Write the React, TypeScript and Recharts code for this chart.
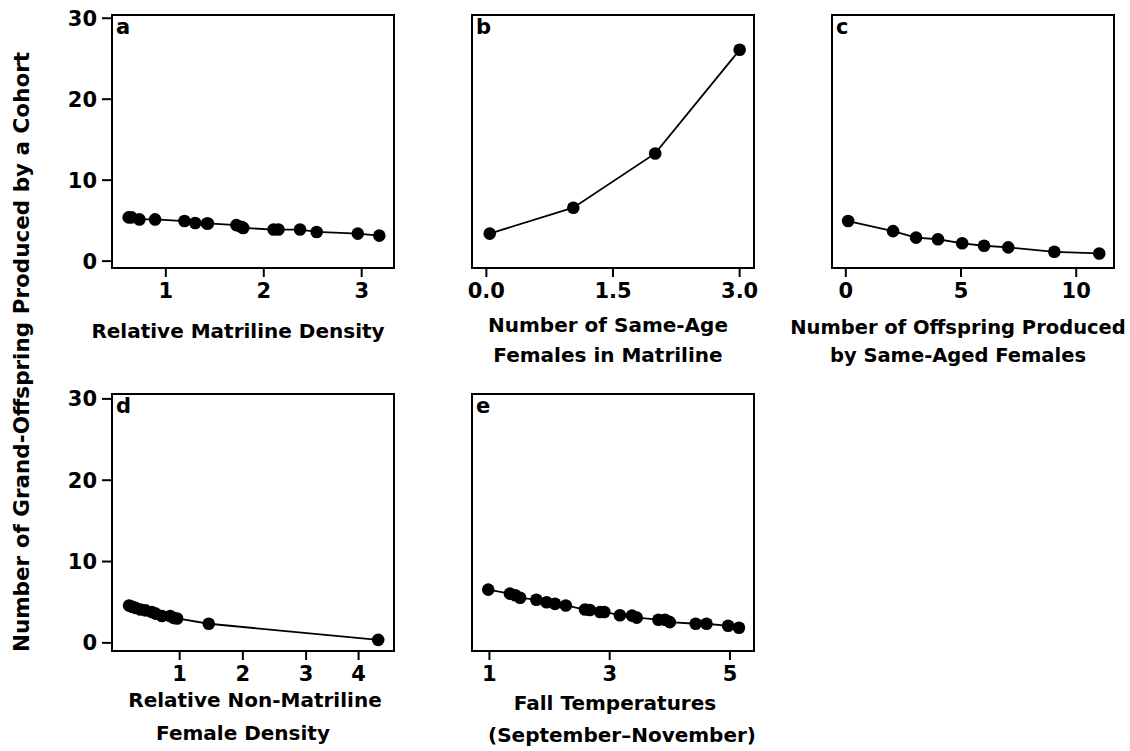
import React from 'react';
import { LineChart, Line, XAxis, YAxis, ReferenceArea } from 'recharts';

// panel a: relative matriline density
const aX = [0.62, 0.65, 0.73, 0.89, 1.19, 1.3, 1.42, 1.43, 1.72, 1.77, 1.79, 2.1, 2.15, 2.37, 2.54, 2.96, 3.18];
const aY = [5.4, 5.4, 5.15, 5.15, 4.95, 4.7, 4.65, 4.65, 4.45, 4.25, 4.1, 3.9, 3.9, 3.9, 3.6, 3.4, 3.15];
// panel b: same-age females in matriline
const bX = [0.04, 1.03, 2.0, 3.0];
const bY = [3.4, 6.6, 13.3, 26.1];
// panel c: offspring produced by same-aged females
const cX = [0.1, 2.05, 3.05, 4.0, 5.05, 6.0, 7.05, 9.05, 11.0];
const cY = [4.95, 3.7, 2.9, 2.7, 2.2, 1.9, 1.7, 1.15, 0.95];
// panel d: relative non-matriline female density
const dX = [0.2, 0.25, 0.3, 0.38, 0.46, 0.56, 0.62, 0.72, 0.85, 0.91, 0.96, 1.46, 4.14];
const dY = [4.6, 4.45, 4.3, 4.1, 4.0, 3.8, 3.6, 3.3, 3.3, 3.05, 3.0, 2.35, 0.37];
// panel e: fall temperatures
const eX = [0.98, 1.34, 1.43, 1.51, 1.78, 1.95, 2.09, 2.27, 2.59, 2.67, 2.84, 2.91, 3.17, 3.37, 3.45, 3.81, 3.92, 4.0, 4.43, 4.61, 4.97, 5.15];
const eY = [6.55, 6.05, 5.85, 5.55, 5.3, 5.0, 4.8, 4.6, 4.1, 4.05, 3.8, 3.8, 3.4, 3.35, 3.1, 2.85, 2.85, 2.55, 2.35, 2.35, 2.1, 1.85];

const yTicks = [0, 10, 20, 30];
const aTicks = [1, 2, 3];
const aTickLabels = ['1', '2', '3'];
const bTicks = [0, 1.5, 3];
const bTickLabels = ['0.0', '1.5', '3.0'];
const cTicks = [0, 5, 10];
const cTickLabels = ['0', '5', '10'];
// the "4" tick sits off the linear spacing in the original figure
const dTicks = [1, 2, 3, 3.83];
const dTickLabels = ['1', '2', '3', '4'];
const eTicks = [1, 3, 5];
const eTickLabels = ['1', '3', '5'];

const yLabel = 'Number of Grand-Offspring Produced by a Cohort';

const FONT = '"DejaVu Sans", Verdana, sans-serif';
const Y_W = 60;
const X_H = 44;
const PAD = 12;
const TICK_FS = 21;

type PanelProps = {
  letter: string;
  xs: number[];
  ys: number[];
  ticks: number[];
  tickLabels: string[];
  xDomain: [number, number];
  yDomain: [number, number];
  left: number;
  top: number;
  w: number;
  h: number;
  showY: boolean;
};

const Panel: React.FC<PanelProps> = ({ letter, xs, ys, ticks, tickLabels, xDomain, yDomain, left, top, w, h, showY }) => {
  const data = xs.map((x, i) => ({ x, y: ys[i] }));
  const yw = showY ? Y_W : 0;
  const fmt = (v: number) => {
    const i = ticks.indexOf(v);
    return i >= 0 ? tickLabels[i] : String(v);
  };
  return (
    <div style={{ position: 'absolute', left: left - yw - PAD, top: top - PAD }}>
      <LineChart
        width={yw + w + PAD * 2}
        height={h + PAD + X_H}
        data={data}
        margin={{ top: PAD, right: PAD, left: PAD, bottom: 0 }}
      >
        <XAxis
          dataKey="x"
          type="number"
          domain={xDomain}
          allowDataOverflow
          ticks={ticks}
          tickFormatter={fmt}
          axisLine={false}
          tickSize={9}
          tickMargin={6}
          height={X_H}
          tickLine={{ stroke: '#000', strokeWidth: 2 }}
          tick={{ fill: '#000', fontSize: TICK_FS, fontWeight: 'bold', fontFamily: FONT }}
          interval={0}
        />
        <YAxis
          type="number"
          domain={yDomain}
          allowDataOverflow
          ticks={yTicks}
          hide={!showY}
          width={Y_W}
          axisLine={false}
          tickSize={10}
          tickMargin={5}
          tickLine={{ stroke: '#000', strokeWidth: 2 }}
          tick={{ fill: '#000', fontSize: TICK_FS, fontWeight: 'bold', fontFamily: FONT }}
          interval={0}
        />
        <ReferenceArea
          x1={xDomain[0]}
          x2={xDomain[1]}
          y1={yDomain[0]}
          y2={yDomain[1]}
          fill="none"
          stroke="#000"
          strokeWidth={2}
          fillOpacity={0}
        />
        <Line
          dataKey="y"
          type="linear"
          stroke="#000"
          strokeWidth={1.8}
          dot={{ r: 6.3, fill: '#000', stroke: '#000', strokeWidth: 0 }}
          isAnimationActive={false}
        />
      </LineChart>
      <div
        style={{
          position: 'absolute',
          left: yw + PAD + 4,
          top: PAD + 1,
          fontFamily: FONT,
          fontWeight: 'bold',
          fontSize: 21,
          lineHeight: '22px',
        }}
      >
        {letter}
      </div>
    </div>
  );
};

const Title: React.FC<{ text: string; cx: number; cy: number; size?: number }> = ({ text, cx, cy, size = 20 }) => (
  <div
    style={{
      position: 'absolute',
      left: cx - 250,
      top: cy - 15,
      width: 500,
      textAlign: 'center',
      fontFamily: FONT,
      fontWeight: 'bold',
      fontSize: size,
      lineHeight: '30px',
      whiteSpace: 'nowrap',
    }}
  >
    {text}
  </div>
);

const App: React.FC = () => {
  const row1: [number, number] = [-0.85, 30.4];
  const row2: [number, number] = [-1.0, 30.6];
  return (
    <div style={{ position: 'absolute', left: 0, top: 0, width: 1130, height: 751, background: '#fff', color: '#000' }}>
      <Panel letter="a" xs={aX} ys={aY} ticks={aTicks} tickLabels={aTickLabels} xDomain={[0.45, 3.33]} yDomain={row1}
        left={112} top={15} w={282} h={253} showY />
      <Panel letter="b" xs={bX} ys={bY} ticks={bTicks} tickLabels={bTickLabels} xDomain={[-0.17, 3.17]} yDomain={row1}
        left={472} top={15} w={282} h={253} showY={false} />
      <Panel letter="c" xs={cX} ys={cY} ticks={cTicks} tickLabels={cTickLabels} xDomain={[-0.6, 11.64]} yDomain={row1}
        left={832} top={15} w={282} h={253} showY={false} />
      <Panel letter="d" xs={dX} ys={dY} ticks={dTicks} tickLabels={dTickLabels} xDomain={[-0.07, 4.39]} yDomain={row2}
        left={112} top={394} w={282} h={257} showY />
      <Panel letter="e" xs={eX} ys={eY} ticks={eTicks} tickLabels={eTickLabels} xDomain={[0.71, 5.4]} yDomain={row2}
        left={472} top={394} w={282} h={257} showY={false} />

      <Title text="Relative Matriline Density" cx={238} cy={331} />
      <Title text="Number of Same-Age" cx={608} cy={325} />
      <Title text="Females in Matriline" cx={608} cy={355} />
      <Title text="Number of Offspring Produced" cx={958} cy={328} size={19.5} />
      <Title text="by Same-Aged Females" cx={958} cy={356} size={19.5} />
      <Title text="Relative Non-Matriline" cx={255} cy={700} />
      <Title text="Female Density" cx={243} cy={733} />
      <Title text="Fall Temperatures" cx={615} cy={703} />
      <Title text="(September–November)" cx={622} cy={735} />

      <div
        style={{
          position: 'absolute',
          left: 22 - 350,
          top: 352 - 15,
          width: 700,
          textAlign: 'center',
          transform: 'rotate(-90deg)',
          fontFamily: FONT,
          fontWeight: 'bold',
          fontSize: 21.5,
          lineHeight: '30px',
          whiteSpace: 'nowrap',
        }}
      >
        {yLabel}
      </div>
    </div>
  );
};

export default App;
